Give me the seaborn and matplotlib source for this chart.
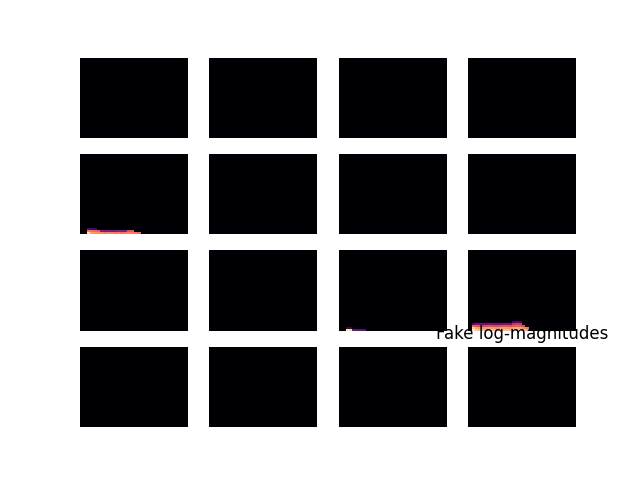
import numpy as np
import matplotlib
matplotlib.use("Agg")
import matplotlib.pyplot as plt
import seaborn as sns

# grid of fake spectrogram panels, mostly near zero
n_rows, n_cols = 40, 32
n_panels = 16

# bottom rows (listed from the bottom up) for the panels that show anything
p4_rows = [
    [0, 0, .95, .80, .78, .76, .74, .72, .74, .73, .71, .72, .70, .72, .74, .73,
     .70, .68, 0, 0, 0, 0, 0, 0, 0, 0, 0, 0, 0, 0, 0, 0],
    [0, 0, .72, .70, .68, .66, .36, .33, .34, .32, .33, .35, .34, .36, .62, .64,
     0, 0, 0, 0, 0, 0, 0, 0, 0, 0, 0, 0, 0, 0, 0, 0],
    [0, 0, .22, .20, .18, 0, 0, 0, 0, 0, 0, 0, 0, 0, 0, 0,
     0, 0, 0, 0, 0, 0, 0, 0, 0, 0, 0, 0, 0, 0, 0, 0],
]
p10_rows = [
    [0, 0, .96, .92, .30, .28, .27, .25, 0, 0, 0, 0, 0, 0, 0, 0,
     0, 0, 0, 0, 0, 0, 0, 0, 0, 0, 0, 0, 0, 0, 0, 0],
    [0, 0, .15, .14, 0, 0, 0, 0, 0, 0, 0, 0, 0, 0, 0, 0,
     0, 0, 0, 0, 0, 0, 0, 0, 0, 0, 0, 0, 0, 0, 0, 0],
]
p11_rows = [
    [0, .95, .88, .86, .85, .84, .86, .85, .83, .84, .86, .85, .84, .86, .88, .87,
     .85, .82, 0, 0, 0, 0, 0, 0, 0, 0, 0, 0, 0, 0, 0, 0],
    [0, .90, .80, .78, .77, .78, .79, .78, .76, .77, .79, .78, .77, .80, .82, .80,
     .76, .72, 0, 0, 0, 0, 0, 0, 0, 0, 0, 0, 0, 0, 0, 0],
    [0, .65, .62, .60, .58, .60, .61, .59, .58, .60, .62, .61, .60, .64, .66, .65,
     .58, 0, 0, 0, 0, 0, 0, 0, 0, 0, 0, 0, 0, 0, 0, 0],
    [0, .20, .30, .28, .27, .29, .30, .28, .27, .29, .30, .31, .30, .50, .55, .52,
     0, 0, 0, 0, 0, 0, 0, 0, 0, 0, 0, 0, 0, 0, 0, 0],
    [0, 0, 0, 0, 0, 0, 0, 0, 0, 0, 0, 0, 0, .18, .22, .20,
     0, 0, 0, 0, 0, 0, 0, 0, 0, 0, 0, 0, 0, 0, 0, 0],
]
active = {4: p4_rows, 10: p10_rows, 11: p11_rows}
title = "Fake log-magnitudes"

fig, axes = plt.subplots(4, 4, figsize=(6.4, 4.8), dpi=100)

for i, ax in enumerate(axes.flat):
    img = np.zeros((n_rows, n_cols))
    rows = active.get(i, [])
    for k, r in enumerate(rows):
        img[n_rows - 1 - k] = r
    sns.heatmap(img, ax=ax, cmap="magma", vmin=0, vmax=1, cbar=False,
                xticklabels=False, yticklabels=False)
    ax.axis("off")

# title ends up on the last panel
ax.set_title(title)

fig.savefig("out.png", dpi=100)
